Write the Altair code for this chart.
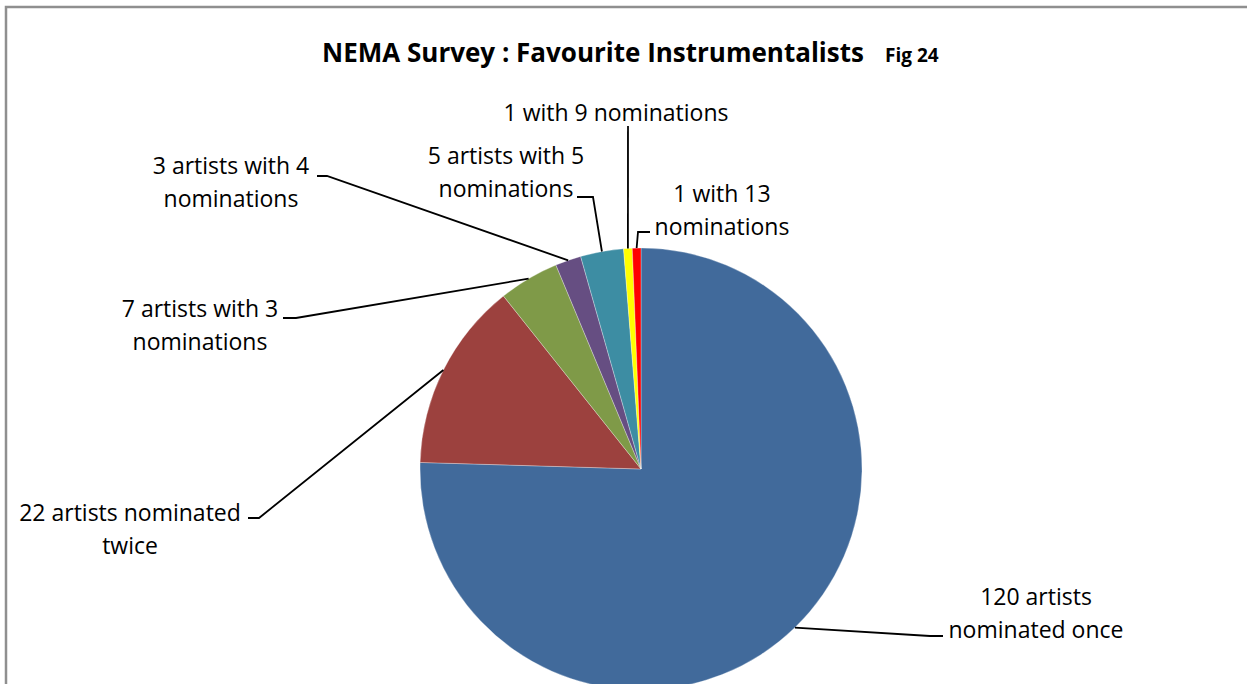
import math
import altair as alt
import pandas as pd

# ---- data ----
categories = [
    "120 artists nominated once",
    "22 artists nominated twice",
    "7 artists with 3 nominations",
    "3 artists with 4 nominations",
    "5 artists with 5 nominations",
    "1 with 9 nominations",
    "1 with 13 nominations",
]
counts = [120, 22, 7, 3, 5, 1, 1]
label_lines = [
    ["120 artists", "nominated once"],
    ["22 artists nominated", "twice"],
    ["7 artists with 3", "nominations"],
    ["3 artists with 4", "nominations"],
    ["5 artists with 5", "nominations"],
    ["1 with 9 nominations"],
    ["1 with 13", "nominations"],
]
colors = ["#416A9B", "#9C413E", "#7F9A48", "#664E82", "#3D8DA3", "#FFFF00", "#FF0000"]

# ---- layout (pixels) ----
W, H = 1247, 684
CX, CY, R = 641, 469, 221
FONT = "Open Sans"
# elbow point and end of leader line, label anchor (center x, middle y of first line)
elbows = [(930, 636), (259, 518), (296, 318), (327, 176), (593, 197), (628, 126), (638, 232)]
ends = [(943, 636), (248, 518), (283, 318), (317, 176), (577, 197), (628, 126), (650, 232)]
label_pos = [(1036, 598), (130, 514), (200, 310), (231, 167), (506, 157), (616, 114), (722, 195)]

total = sum(counts)
cum = 0
slices, lines, texts = [], [], []
for i, (cat, v) in enumerate(zip(categories, counts)):
    mid = (cum + v / 2) / total * 2 * math.pi
    cum += v
    slices.append({"cat": cat, "v": v, "order": i})
    sx = CX + R * math.sin(mid)
    sy = CY - R * math.cos(mid)
    for j, (px, py) in enumerate([(sx, sy), elbows[i], ends[i]]):
        lines.append({"cat": cat, "k": j, "px": px, "py": py})
    lx, ly = label_pos[i]
    for j, t in enumerate(label_lines[i]):
        texts.append({"t": t, "px": lx, "py": ly + j * 32.5})

df = pd.DataFrame(slices)
ldf = pd.DataFrame(lines)
tdf = pd.DataFrame(texts)

pie = alt.Chart(df).mark_arc(outerRadius=R, stroke="#ffffff", strokeWidth=0.3).encode(
    theta=alt.Theta("v:Q", stack=True),
    order=alt.Order("order:Q"),
    color=alt.Color("cat:N", scale=alt.Scale(domain=categories, range=colors), legend=None),
    x=alt.value(CX),
    y=alt.value(CY),
)

leaders = alt.Chart(ldf).mark_line(color="#000000", strokeWidth=1.8).encode(
    x=alt.X("px:Q", scale=None),
    y=alt.Y("py:Q", scale=None),
    detail="cat:N",
    order="k:Q",
)

labels = alt.Chart(tdf).mark_text(
    font=FONT, fontSize=23, color="#000000", align="center", baseline="middle"
).encode(
    x=alt.X("px:Q", scale=None),
    y=alt.Y("py:Q", scale=None),
    text="t:N",
)

title_df = pd.DataFrame([
    {"t": "NEMA Survey : Favourite Instrumentalists", "px": 593, "py": 62},
])
fig_df = pd.DataFrame([{"t": "Fig 24", "px": 885, "py": 62}])
title = alt.Chart(title_df).mark_text(
    font=FONT, fontSize=26, fontWeight="bold", align="center", baseline="alphabetic", color="#000000"
).encode(x=alt.X("px:Q", scale=None), y=alt.Y("py:Q", scale=None), text="t:N")
fig = alt.Chart(fig_df).mark_text(
    font=FONT, fontSize=19, fontWeight="bold", align="left", baseline="alphabetic", color="#000000"
).encode(x=alt.X("px:Q", scale=None), y=alt.Y("py:Q", scale=None), text="t:N")

frame = alt.Chart(pd.DataFrame([{"a": 0}])).mark_rect(
    fill=None, stroke="#8f8f8f", strokeWidth=2.5
).encode(x=alt.value(6), x2=alt.value(W + 20), y=alt.value(7), y2=alt.value(H + 20))

chart = alt.layer(frame, pie, leaders, labels, title, fig).properties(
    width=W, height=H, padding=0, autosize=alt.AutoSizeParams(type="none"), background="#ffffff"
).configure_view(stroke=None)

chart.save("out.html", embed_options={"renderer": "svg", "actions": False})
